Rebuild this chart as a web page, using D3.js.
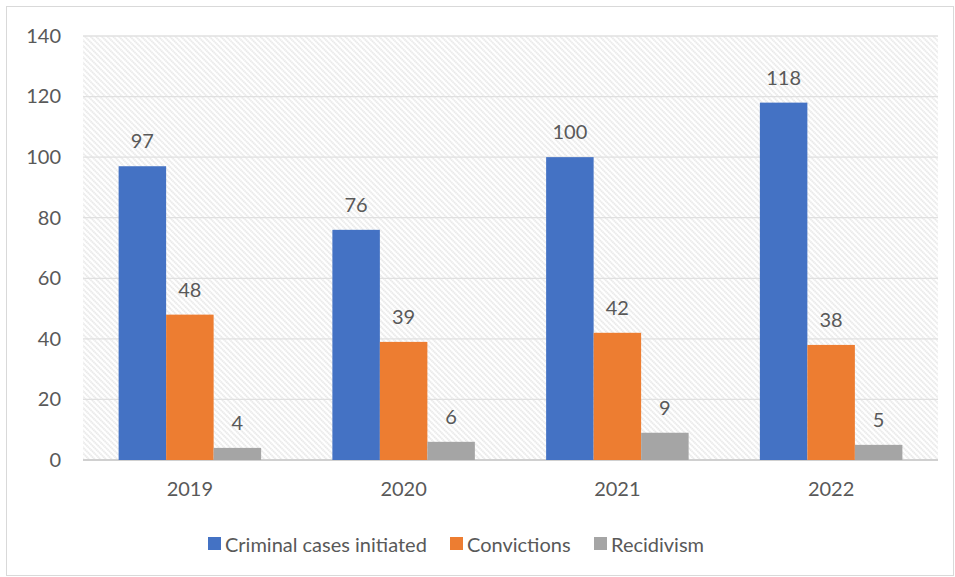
<!DOCTYPE html>
<html>
<head>
<meta charset="utf-8">
<script src="https://cdn.jsdelivr.net/npm/d3@7"></script>
<style>
  body { margin: 0; background: #fff; }
  text { font-family: Lato, "Open Sans", sans-serif; fill: #595959; }
</style>
</head>
<body>
<div id="chart"></div>
<script>
// Chart data
const years = ["2019", "2020", "2021", "2022"];
const seriesNames = ["Criminal cases initiated", "Convictions", "Recidivism"];
const criminalCases = [97, 76, 100, 118];
const convictions = [48, 39, 42, 38];
const recidivism = [4, 6, 9, 5];
const yTicks = [0, 20, 40, 60, 80, 100, 120, 140];
const colors = ["#4472c4", "#ed7d31", "#a5a5a5"];

const seriesValues = [criminalCases, convictions, recidivism];

const W = 955, H = 577;
const margin = { top: 36, right: 17, bottom: 117, left: 83 };
const width = W - margin.left - margin.right;
const height = H - margin.top - margin.bottom;

const svg = d3.select("#chart").append("svg")
    .attr("width", W)
    .attr("height", H);

// Hatch pattern for plot background (downward diagonal)
const defs = svg.append("defs");
const pat = defs.append("pattern")
    .attr("id", "hatch")
    .attr("patternUnits", "userSpaceOnUse")
    .attr("width", 4)
    .attr("height", 4)
    .attr("patternTransform", "rotate(-45)");
pat.append("line")
    .attr("x1", 1).attr("y1", 0)
    .attr("x2", 1).attr("y2", 4)
    .attr("stroke", "#d6d6d6")
    .attr("stroke-width", 1.1)
    .attr("stroke-dasharray", "1.4 0.6");

// Outer border
svg.append("rect")
    .attr("x", 6.5).attr("y", 6.5)
    .attr("width", W - 8).attr("height", H - 8)
    .attr("fill", "none")
    .attr("stroke", "#d9d9d9");

const g = svg.append("g")
    .attr("transform", `translate(${margin.left},${margin.top})`);

g.append("rect")
    .attr("width", width)
    .attr("height", height)
    .attr("fill", "url(#hatch)");

const x0 = d3.scaleBand().domain(years).range([0, width]).paddingInner(0).paddingOuter(0);
const x1 = d3.scaleBand().domain(seriesNames).range([0, x0.bandwidth()]).paddingOuter(0.75).paddingInner(0);
const y = d3.scaleLinear().domain([0, 140]).range([height, 0]);

// Gridlines
g.selectAll(".grid")
    .data(yTicks)
    .enter().append("line")
    .attr("x1", 0).attr("x2", width)
    .attr("y1", d => y(d)).attr("y2", d => y(d))
    .attr("stroke", d => d === 0 ? "#d0d0d0" : "#e0e0e0")
    .attr("stroke-width", d => d === 0 ? 2 : 1.3);

// Y axis labels
const yAxis = g.append("g").call(d3.axisLeft(y).tickValues(yTicks).tickSize(0).tickPadding(22));
yAxis.select(".domain").remove();
yAxis.selectAll("text")
    .style("font-size", "20px")
    .attr("fill", "#595959")
    .attr("text-anchor", "end");

// X axis labels
const xAxis = g.append("g")
    .attr("transform", `translate(0,${height})`)
    .call(d3.axisBottom(x0).tickSize(0).tickPadding(22));
xAxis.select(".domain").remove();
xAxis.selectAll("text").style("font-size", "20px").attr("fill", "#595959");

// Bars
const groups = g.selectAll(".year")
    .data(years)
    .enter().append("g")
    .attr("transform", d => `translate(${x0(d)},0)`);

groups.selectAll("rect")
    .data((d, i) => seriesNames.map((s, k) => ({ s, v: seriesValues[k][i], k })))
    .enter().append("rect")
    .attr("x", d => x1(d.s))
    .attr("y", d => y(d.v))
    .attr("width", x1.bandwidth())
    .attr("height", d => height - y(d.v))
    .attr("fill", d => colors[d.k]);

groups.selectAll(".lbl")
    .data((d, i) => seriesNames.map((s, k) => ({ s, v: seriesValues[k][i], k })))
    .enter().append("text")
    .attr("x", d => x1(d.s) + x1.bandwidth() / 2)
    .attr("y", d => y(d.v) - 18)
    .attr("text-anchor", "middle")
    .style("font-size", "20px")
    .text(d => d.v);

// Legend
const legendItems = [
    { name: seriesNames[0], x: 208 },
    { name: seriesNames[1], x: 450 },
    { name: seriesNames[2], x: 594 }
];
const legend = svg.append("g");
legendItems.forEach((d, i) => {
    legend.append("rect")
        .attr("x", d.x).attr("y", 537)
        .attr("width", 13).attr("height", 13)
        .attr("fill", colors[i]);
    legend.append("text")
        .attr("x", d.x + 17).attr("y", 552)
        .style("font-size", "20px")
        .text(d.name);
});
</script>
</body>
</html>
